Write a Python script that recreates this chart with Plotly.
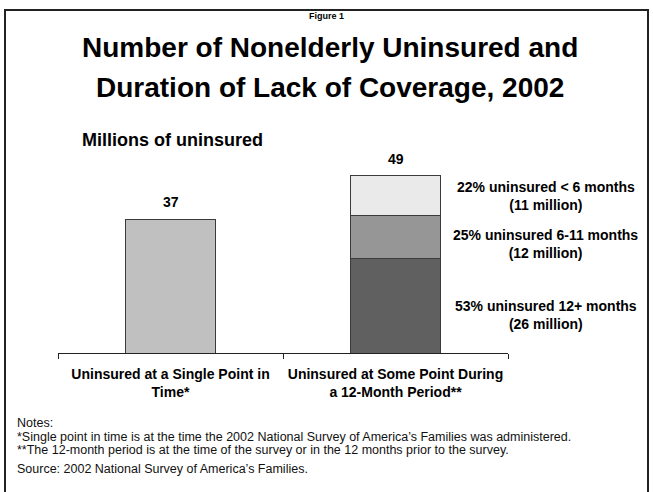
import plotly.graph_objects as go

categories = ["Uninsured at a Single Point in<br>Time*",
              "Uninsured at Some Point During<br>a 12-Month Period**"]
single_point = [37, None]
dur_12plus = [None, 26]
dur_6_11 = [None, 12]
dur_lt6 = [None, 11]
seg_labels = [["53% uninsured 12+ months", "(26 million)"],
              ["25% uninsured 6-11 months", "(12 million)"],
              ["22% uninsured < 6 months", "(11 million)"]]
totals = [37, 49]

FONT = "Liberation Sans, Arial, sans-serif"
line = dict(color="#3a3a3a", width=1)

fig = go.Figure()
fig.add_trace(go.Bar(x=categories, y=single_point, marker=dict(color="#C0C0C0", line=line),
                     width=0.4, showlegend=False, hoverinfo="skip"))
fig.add_trace(go.Bar(x=categories, y=dur_12plus, marker=dict(color="#606060", line=line),
                     width=0.4, showlegend=False, hoverinfo="skip"))
fig.add_trace(go.Bar(x=categories, y=dur_6_11, marker=dict(color="#969696", line=line),
                     width=0.4, showlegend=False, hoverinfo="skip"))
fig.add_trace(go.Bar(x=categories, y=dur_lt6, marker=dict(color="#EAEAEA", line=line),
                     width=0.4, showlegend=False, hoverinfo="skip"))

W, H = 653, 492
pl, pr, pt, pb = 58, 145, 154, 139
pw, ph = W - pl - pr, H - pt - pb


def px(x):
    return (x - pl) / pw


def py(y):
    return (H - pb - y) / ph


fig.update_layout(
    width=W, height=H,
    margin=dict(l=pl, r=pr, t=pt, b=pb),
    paper_bgcolor="white", plot_bgcolor="white",
    barmode="stack", bargap=0.6,
    font=dict(family=FONT, color="black"),
    xaxis=dict(showline=True, linecolor="#222", linewidth=1, ticks="outside",
               tickson="boundaries", ticklen=5, tickcolor="#222", ticklabelstandoff=8,
               tickfont=dict(family=FONT, size=14, color="black", weight="bold"),
               range=[-0.5, 1.5], showgrid=False),
    yaxis=dict(range=[0, 55], visible=False, showgrid=False),
)

# totals above bars
for c, t in zip(categories, totals):
    fig.add_annotation(x=c, y=t, text="%d" % t, showarrow=False,
                       yanchor="bottom", yshift=7,
                       font=dict(family=FONT, size=14, color="black", weight="bold"))

# segment labels
segs = [dur_12plus[1], dur_6_11[1], dur_lt6[1]]
yshifts = [-9, -7, 0]
base = 0
for v, lab, ys in zip(segs, seg_labels, yshifts):
    fig.add_annotation(x=categories[1], y=base + v / 2, text="<br>".join(lab),
                       showarrow=False, xshift=150, yshift=ys, align="center",
                       xanchor="center",
                       font=dict(family=FONT, size=14, color="black", weight="bold"))
    base += v

texts = [
    (326.5, 16, "Figure 1", 9),
    (330, 47, "Number of Nonelderly Uninsured and", 28),
    (330, 87, "Duration of Lack of Coverage, 2002", 28),
]
for x, y, t, s in texts:
    fig.add_annotation(xref="paper", yref="paper", x=px(x), y=py(y), text=t, showarrow=False,
                       xanchor="center", yanchor="middle",
                       font=dict(family=FONT, size=s, color="black", weight="bold"))
fig.add_annotation(xref="paper", yref="paper", x=px(80), y=py(140), text="Millions of uninsured",
                   showarrow=False, xanchor="left", yanchor="middle",
                   font=dict(family=FONT, size=18, color="black", weight="bold"))

notes = [
    (15, 423, "Notes:"),
    (15, 437, "*Single point in time is at the time the 2002 National Survey of America\u2019s Families was administered."),
    (15, 450, "**The 12-month period is at the time of the survey or in the 12 months prior to the survey."),
    (15, 469, "Source: 2002 National Survey of America\u2019s Families."),
]
for x, y, t in notes:
    fig.add_annotation(xref="paper", yref="paper", x=px(x), y=py(y), text=t, showarrow=False,
                       xanchor="left", yanchor="middle", font=dict(family=FONT, size=12.5, color="#111"))

fig.add_shape(type="rect", xref="paper", yref="paper", x0=px(5), x1=px(648), y0=py(500), y1=py(10),
              line=dict(color="#222", width=2), fillcolor="rgba(0,0,0,0)", layer="above")

fig.write_html("out.html")
